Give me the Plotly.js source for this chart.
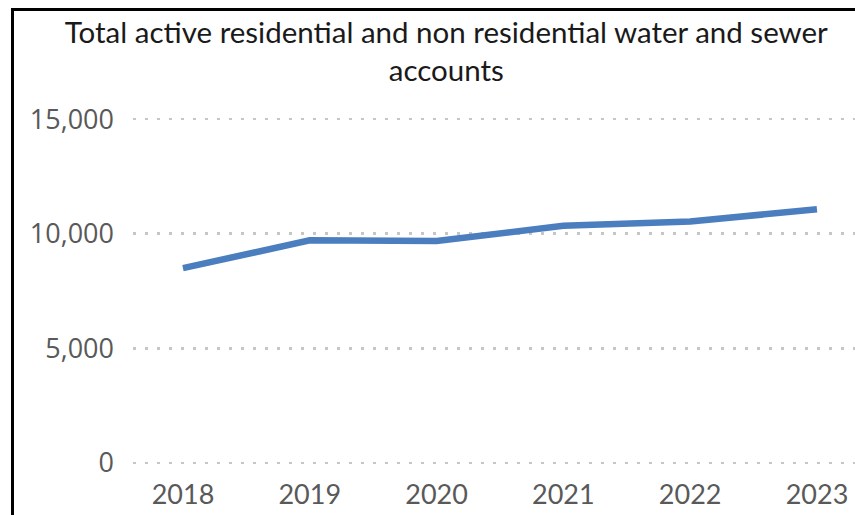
<!DOCTYPE html>
<html>
<head>
<meta charset="utf-8">
<script src="https://cdn.plot.ly/plotly-3.0.1.min.js"></script>
<style>
  html, body { margin: 0; padding: 0; background: #ffffff; }
  #wrap { position: relative; width: 855px; height: 515px; overflow: hidden; }
  #chart { position: absolute; left: 0; top: 0; width: 855px; height: 515px; }
  #frame { position: absolute; left: 11px; top: 8px; width: 900px; height: 600px;
           border-left: 3px solid #000; border-top: 3px solid #000; pointer-events: none; }
</style>
</head>
<body>
<div id="wrap">
  <div id="chart"></div>
  <div id="frame"></div>
</div>
<script>
const years = ['2018', '2019', '2020', '2021', '2022', '2023'];
const accounts = [8500, 9710, 9680, 10350, 10530, 11070];
const yTickValues = [0, 5000, 10000, 15000];
const yTickLabels = ['0', '5,000', '10,000', '15,000'];
const chartTitle = 'Total active residential and non residential water and sewer<br>accounts';

const trace = {
  x: years.map((_, i) => i),
  y: accounts,
  type: 'scatter',
  mode: 'lines',
  line: { color: '#4a7ebf', width: 6.5 },
  hoverinfo: 'skip'
};

const layout = {
  width: 855,
  height: 515,
  paper_bgcolor: '#ffffff',
  plot_bgcolor: '#ffffff',
  showlegend: false,
  margin: { l: 133, r: 0, t: 118, b: 51 },
  title: {
    text: chartTitle,
    x: 0.522,
    xanchor: 'center',
    xref: 'container',
    y: 1 - 43 / 515,
    yref: 'container',
    yanchor: 'top',
    font: { family: 'Lato, sans-serif', size: 29.5, color: '#1a1a1a' }
  },
  xaxis: {
    range: [-0.394, 5.3],
    tickmode: 'array',
    tickvals: years.map((_, i) => i),
    ticktext: years,
    showgrid: false,
    zeroline: false,
    showline: false,
    ticks: '',
    ticklabelstandoff: 12,
    tickfont: { family: 'Lato, sans-serif', size: 27, color: '#595959' }
  },
  yaxis: {
    range: [-50, 15050],
    tickmode: 'array',
    tickvals: yTickValues,
    ticktext: yTickLabels,
    showgrid: true,
    gridcolor: '#c6c6c6',
    gridwidth: 2.5,
    griddash: '2.5px,9.5px',
    zeroline: false,
    showline: false,
    ticks: '',
    ticklabelstandoff: 18,
    tickfont: { family: '"Open Sans", sans-serif', size: 27, color: '#595959' }
  }
};

Plotly.newPlot('chart', [trace], layout, { staticPlot: true, displayModeBar: false });
</script>
</body>
</html>
